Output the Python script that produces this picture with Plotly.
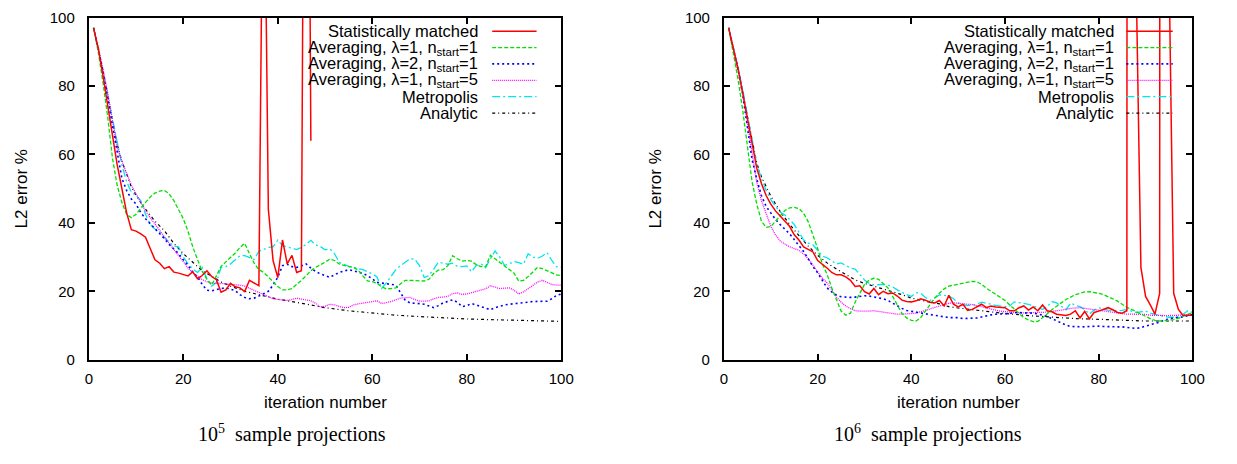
import plotly.graph_objects as go

# ---------------- data ----------------
ITER = list(range(1, 101))
ITER_RED_LEFT = list(range(1, 48))

left_red = [97, 91, 83, 74, 65, 57, 50, 43, 38, 37.6,
            36.8, 35.8, 32.5, 29.2, 28.2, 26.6, 27.2, 25.6, 25.3, 24.8,
            24.5, 25.7, 23.7, 24.6, 26, 24.3, 23.4, 19.7, 20.4, 22.3,
            21.3, 21, 19.9, 23.2, 22.4, 21.6, 170, 44, 29, 24,
            35, 28, 30.5, 25.5, 26, 300, 64]

left_green = [97, 90, 81, 71, 59, 51, 46, 42.5, 41.5, 42.5,
              44.3, 46, 47.6, 48.7, 49.3, 49.5, 48.5, 46.5, 44, 41.2,
              37.5, 33, 29.3, 25.8, 23.5, 21.8, 24.5, 27.3, 28.6, 29.9,
              31.2, 32.8, 34, 31, 28.2, 26.3, 25.5, 24.2, 22.7, 21.4,
              20.4, 20.4, 20.8, 21.9, 23.2, 24.5, 26, 27, 27.7, 28.5,
              29.4, 29, 28, 27.5, 27.2, 27, 26.2, 24.5, 23, 22.8,
              22.3, 21.3, 20.7, 20.8, 21, 22.2, 23.2, 23.2, 23.2, 23.2,
              23, 23.5, 25.2, 26.2, 26.3, 27.5, 30.4, 29.5, 28.8, 29,
              28.8, 27.8, 27.2, 27.2, 30.5, 29.5, 28.5, 27.5, 26.5, 25.3,
              23, 23.2, 24.3, 25.8, 27, 26.6, 26, 25.3, 24.8, 24.6]

left_blue = [97, 91, 84, 76, 68, 60, 53, 49.5, 47, 45.5,
             43, 41.2, 39.8, 38.5, 37, 35.4, 33.7, 32.3, 31, 29.2,
             27.6, 25.6, 24.2, 22, 20.3, 20.1, 20.5, 20.8, 21, 20.7,
             20.2, 19, 18.2, 17.8, 18, 18.6, 19.3, 20, 21.8, 24.1,
             27.5, 27.9, 27.2, 27, 27.4, 28, 26.8, 25.8, 25.1, 24.6,
             24.1, 24.8, 25.5, 25.9, 26.3, 26, 25.7, 25.2, 24.6, 23.5,
             22.6, 22.4, 22.2, 22, 21.8, 19.5, 17.3, 16.6, 16.6, 16.4,
             16.2, 15.7, 15.2, 15.8, 16.6, 17, 17.5, 16.8, 15.5, 15.8,
             16.4, 16, 15.6, 15.2, 14.6, 15.2, 15.7, 16, 16.2, 16.3,
             16.5, 16.6, 16.8, 17, 17.1, 17.1, 17.1, 17.8, 18.8, 19.2]

left_magenta = [97, 91, 85, 78, 70, 62, 58, 54.5, 51, 48.5,
                46, 43.5, 41.5, 39.5, 37.8, 35.9, 34, 32.2, 30.4, 28.7,
                26.8, 25.4, 24.3, 23.4, 22.8, 22.4, 22.3, 22.3, 22.2, 22,
                22, 21.8, 21.5, 20.9, 20.2, 19.5, 18.9, 18.3, 17.8, 17.6,
                17.4, 17.3, 17.6, 18, 17.7, 17.4, 17.2, 16.5, 15.4, 15.6,
                16.2, 16, 15.7, 15.2, 15.3, 16, 16.3, 16.5, 16.6, 17,
                17.2, 16.4, 16.6, 17, 17.5, 18, 18.1, 18.2, 17.6, 17.1,
                17.1, 17.2, 17.8, 18.2, 18.3, 18.5, 19.3, 19.5, 19.1, 19.2,
                19.6, 19.9, 20.2, 20.7, 21.6, 21.3, 20.8, 20.9, 21, 20.3,
                19.2, 19.8, 20.7, 21.8, 22.7, 23.2, 22.6, 22, 21.8, 21.8]

left_cyan = [97, 91, 84, 77, 70, 64, 57, 52, 49, 48,
             46.5, 42.5, 39.5, 38.2, 37.3, 35.7, 34.3, 33.2, 33, 30,
             28, 26.5, 25.5, 27, 23.7, 21.5, 22.5, 27, 27.2, 28,
             29.2, 30.4, 30.4, 29.8, 29.3, 31.7, 32.3, 32.8, 33, 35,
             33.3, 32.9, 32.6, 32.2, 32.8, 33.7, 34.9, 33.6, 33.1, 32.1,
             32.4, 31, 28.5, 27.8, 27.3, 27, 26.7, 26.3, 25.7, 25.1,
             24.2, 20.8, 22.5, 24.6, 26.3, 27.5, 28.5, 29.5, 29.4, 27.5,
             24, 24.6, 26.5, 28.5, 28.2, 27.9, 28.2, 27.3, 27.2, 27.4,
             25.7, 27.5, 28, 26.9, 29.5, 31.8, 30, 27.6, 28, 28.7,
             28.4, 27.9, 31, 30, 29.6, 30.3, 31.3, 29, 27.2, 27]

left_black_x = [1, 2, 3, 4, 5, 6, 7, 8, 9, 10, 12, 14, 16, 18, 20, 22, 24, 26, 28, 30,
                33, 36, 40, 45, 50, 55, 60, 65, 70, 75, 80, 85, 90, 95, 100]
left_black = [97, 91, 84.5, 77.5, 70, 63, 58, 54, 50.5, 48, 44, 40.5, 37.7, 34, 31,
              28.5, 26, 24.4, 22.7, 21.5, 20, 19, 17.7, 16.5, 15.2, 14.3, 13.6, 13,
              12.6, 12.2, 11.9, 11.7, 11.5, 11.4, 11.2]

right_red = [97, 91, 85, 78, 70.5, 63, 56, 51.5, 48, 45.5,
             43.5, 42, 40.5, 39, 36.5, 35, 33, 32.3, 31.5, 29,
             28, 26.8, 25.5, 24.8, 24.8, 24.2, 23.2, 21.4, 21.6, 19.9,
             19.2, 20.8, 19, 20, 19.3, 19.5, 18.6, 17.4, 17, 16.9,
             17.2, 17.8, 17.4, 16.8, 16.6, 17.3, 15.7, 18.8, 16.2, 15.4,
             16.2, 14.4, 14.7, 15.5, 16.2, 15.2, 15.7, 15.4, 15.2, 15.2,
             14.3, 14.3, 15.2, 15.7, 14.5, 15.4, 14.3, 16, 14.3, 14,
             13.3, 13.1, 12.9, 13.3, 14.3, 12.2, 14.1, 11.9, 13.8, 14.2,
             14.6, 15.2, 14.6, 13.8, 13.6, 14.3, 3000, 110, 27, 18.5,
             16, 13.3, 19.4, 3000, 115, 19.4, 14.7, 12.9, 13, 13]

right_green = [97, 90, 82, 73, 62, 52, 45.5, 40.5, 38.7, 38.9,
               40.5, 42.2, 43.6, 44.4, 44.5, 44.2, 42.8, 40.3, 36.5, 32.5,
               28, 25, 21, 17.5, 14.2, 13, 13.6, 16.8, 19.5, 22,
               23.3, 23.8, 23.5, 22.3, 21, 18.5, 15.8, 13.5, 12.2, 11.5,
               11.3, 12.3, 14.2, 16.3, 18, 19.4, 20.7, 21.5, 21.8, 22.2,
               22.5, 22.8, 22.9, 22.8, 22, 20.9, 20, 19, 18.1, 17.3,
               16, 14.8, 13.4, 12.3, 11.6, 11.1, 11.2, 12.2, 13.4, 14.6,
               15.5, 16.6, 17.6, 18.4, 19, 19.4, 19.8, 19.9, 19.7, 19.4,
               19, 18.5, 17.8, 17.1, 16.2, 15.3, 14.7, 14, 13.4, 12.7,
               12, 11.5, 11.3, 11.4, 11.5, 11.7, 12.1, 12.7, 13.3, 13.6]

right_blue = [97, 91, 85, 77.5, 68, 58.5, 52.8, 48, 44.8, 42.7,
              41, 39.5, 38.2, 36.8, 35.1, 33.4, 31.6, 29.5, 27.2, 25.4,
              23.3, 21, 19.8, 18.9, 18.4, 18.2, 18.2, 18.3, 18.6, 18.7,
              18.6, 18.4, 18.2, 17.8, 17.3, 16.5, 15.6, 15, 14.4, 14.1,
              13.9, 13.6, 13.4, 13.2, 13, 12.7, 12.4, 12.3, 12.3, 12.3,
              12, 12, 12, 12.2, 12.5, 12.9, 13.1, 13.3, 13.3, 13.3,
              13.5, 13.8, 13.8, 13.8, 13.8, 13.6, 13.4, 13.1, 12.6, 12,
              11.3, 10.6, 10.1, 9.7, 9.6, 9.6, 9.6, 9.7, 9.8, 9.8,
              9.7, 9.6, 9.6, 9.6, 9.6, 9.5, 9.3, 9.1, 9.4, 9.8,
              10.1, 10.5, 11, 11.6, 12, 12.2, 12.4, 12.5, 12.9, 13.2]

right_magenta = [97, 91, 85, 78, 69.5, 60, 51.8, 46.5, 42.5, 39,
                 36.5, 34.7, 33.8, 33, 32.5, 32, 30.9, 29.5, 27.6, 25.8,
                 23.8, 22.5, 20.3, 18.3, 16.8, 15.7, 14.9, 14.3, 14.2, 14.1,
                 14.2, 14.3, 14.1, 13.9, 13.6, 13.4, 13.3, 13.3, 13.3, 13.5,
                 13.6, 14, 14.5, 15, 15.4, 15.8, 16.1, 16.5, 16.6, 16.4,
                 16.3, 16.2, 16.1, 15.9, 15.5, 15.1, 14.7, 14.5, 14.2, 14,
                 13.8, 13.7, 13.6, 13.7, 13.8, 13.8, 13.8, 13.8, 13.9, 14.1,
                 14.3, 14.5, 14.8, 15, 15.1, 15.2, 15, 14.8, 14.6, 14.4,
                 14.2, 14, 13.8, 13.6, 13.5, 13.3, 13.3, 13.3, 13.3, 13.2,
                 13, 12.9, 12.9, 12.9, 12.9, 12.9, 12.9, 13, 13.1, 13.2]

right_cyan = [97, 91.5, 85.5, 79, 72, 64, 57, 53, 49.5, 46.8,
              44.8, 43.2, 42.3, 41, 39.5, 37.3, 35, 34.1, 33.6, 32,
              30.3, 29.8, 28.9, 28, 28.3, 27.6, 26.8, 26.5, 25, 23.3,
              22.3, 21.9, 21.9, 22, 21.8, 21.3, 20.4, 19.6, 19, 18.5,
              19.6, 19.4, 18.2, 17.3, 18, 18.9, 18.8, 18.6, 17.8, 16.6,
              16, 15.8, 15.9, 16.2, 16.8, 16.6, 16.2, 15.9, 15.6, 15.5,
              15.7, 16.9, 16.7, 16.5, 16.2, 15.7, 15.2, 14.7, 15.5, 17,
              16.6, 15.7, 14.6, 16.6, 15.9, 15.5, 14.7, 13.3, 14.5, 15.2,
              14.7, 14.5, 14.3, 14.3, 14.4, 14.7, 14.2, 13.8, 14, 14.2,
              13.6, 13.2, 12.9, 12.7, 12.4, 12.4, 12.4, 13.3, 14.3, 13.8]

right_black_x = [1, 2, 3, 4, 5, 6, 7, 8, 9, 10, 12, 14, 16, 18, 20, 22, 24, 26, 28, 30,
                 32, 34, 36, 38, 40, 42, 44, 46, 48, 50, 55, 60, 65, 70, 75, 80, 85, 90, 95, 100]
right_black = [97, 91, 84.5, 78, 71.5, 64, 57.5, 53.5, 50.5, 47.8, 43.3, 39.6, 36.3, 33.2,
               30.5, 28.3, 26.5, 24.8, 23.3, 22.3, 21.5, 20.6, 19.8, 19, 18, 17.3, 16.8,
               16.3, 15.5, 15.1, 14.2, 13.5, 12.9, 12.4, 12, 11.8, 11.5, 11.3, 11.3, 11.3]

SERIES_NAMES = ["Statistically matched",
                "Averaging, λ=1, n<sub>start</sub>=1",
                "Averaging, λ=2, n<sub>start</sub>=1",
                "Averaging, λ=1, n<sub>start</sub>=5",
                "Metropolis",
                "Analytic"]
COLORS = ["#ff0000", "#00e000", "#0000ff", "#ff00ff", "#00e5ee", "#000000"]
DASHES = ["solid", "4px,2px", "2px,3px", "1px,1px", "8px,3px,2px,3px", "3px,3px,1px,3px"]
WIDTHS = [1.5, 1.3, 1.6, 1.3, 1.3, 1.2]

X_TICKS = [0, 20, 40, 60, 80, 100]
Y_TICKS = [0, 20, 40, 60, 80, 100]

# ---------------- figure ----------------
W, H = 1237, 464
fig = go.Figure()

panels = [
    ("x", "y", [(ITER_RED_LEFT, left_red), (ITER, left_green), (ITER, left_blue),
                (ITER, left_magenta), (ITER, left_cyan), (left_black_x, left_black)]),
    ("x2", "y2", [(ITER, right_red), (ITER, right_green), (ITER, right_blue),
                  (ITER, right_magenta), (ITER, right_cyan), (right_black_x, right_black)]),
]
for xa, ya, series in panels:
    for i in reversed(range(len(series))):
        xs, ys = series[i]
        fig.add_trace(go.Scatter(x=xs, y=ys, xaxis=xa, yaxis=ya, mode="lines",
                                 line=dict(color=COLORS[i], dash=DASHES[i], width=WIDTHS[i]),
                                 showlegend=False, hoverinfo="skip"))

def px_x(p):
    return p / W

def px_y(p):
    return 1 - p / H

L_DOM = [px_x(86), px_x(565)]
R_DOM = [px_x(730), px_x(1205)]
Y_DOM = [px_y(364), px_y(9)]

tickfont = dict(family="Liberation Sans, Arial, sans-serif", size=15, color="black")
axis_common = dict(range=[0, 100], tickvals=X_TICKS, showline=True, linecolor="black",
                   linewidth=2, mirror="ticks", ticks="inside", ticklen=6, tickwidth=2,
                   tickcolor="black", showgrid=False, zeroline=False, tickfont=tickfont,
                   fixedrange=True, ticklabeloverflow="allow")

fig.update_layout(
    autosize=True,
    margin=dict(l=0, r=0, t=0, b=0),
    paper_bgcolor="white", plot_bgcolor="white",
    xaxis=dict(domain=L_DOM, anchor="y", ticklabelstandoff=4, **axis_common),
    yaxis=dict(domain=Y_DOM, anchor="x", ticklabelstandoff=9,
               **{**axis_common, "tickvals": Y_TICKS}),
    xaxis2=dict(domain=R_DOM, anchor="y2", ticklabelstandoff=4, **axis_common),
    yaxis2=dict(domain=Y_DOM, anchor="x2", ticklabelstandoff=9,
                **{**axis_common, "tickvals": Y_TICKS}),
    showlegend=False,
)

sans = "Liberation Sans, Arial, sans-serif"
serif = "Liberation Serif, Times New Roman, serif"
annotations = []
shapes = []

for (plot_l, plot_r, ylab_x, cap_x, text_r, line_l, line_r, exp) in [
        (86, 565, 18, 292, 483, 495, 540, "5"),
        (730, 1205, 661, 937, 1127, 1138, 1185, "6")]:
    annotations.append(dict(text="iteration number", x=px_x((plot_l + plot_r) / 2), y=px_y(408),
                            xref="paper", yref="paper", showarrow=False,
                            xanchor="center", yanchor="middle",
                            font=dict(family=sans, size=17, color="black")))
    annotations.append(dict(text="L2 error %", x=px_x(ylab_x), y=px_y(186.5),
                            xref="paper", yref="paper", showarrow=False, textangle=-90,
                            xanchor="center", yanchor="middle",
                            font=dict(family=sans, size=17, color="black")))
    annotations.append(dict(text="10<sup>" + exp + "</sup>&nbsp; sample projections",
                            x=px_x(cap_x), y=px_y(441),
                            xref="paper", yref="paper", showarrow=False,
                            xanchor="center", yanchor="middle",
                            font=dict(family=serif, size=20, color="black")))
    for i, name in enumerate(SERIES_NAMES):
        yy = 23 + 17 * i
        annotations.append(dict(text=name, x=px_x(text_r), y=px_y(yy),
                                xref="paper", yref="paper", showarrow=False,
                                xanchor="right", yanchor="middle",
                                font=dict(family=sans, size=16.5, color="black")))
        shapes.append(dict(type="line", xref="paper", yref="paper",
                           x0=px_x(line_l), x1=px_x(line_r), y0=px_y(yy), y1=px_y(yy),
                           line=dict(color=COLORS[i], dash=DASHES[i], width=WIDTHS[i])))

fig.update_layout(annotations=annotations, shapes=shapes)
# The graph div is 1237x464 and a -8px margin cancels the page's default body
# margin, so it fills the window exactly and the page does not grow past it.
fig.write_html("out.html", config={"displayModeBar": False},
               default_width="%dpx; margin:-8px; display:block" % W,
               default_height="%dpx" % H)
